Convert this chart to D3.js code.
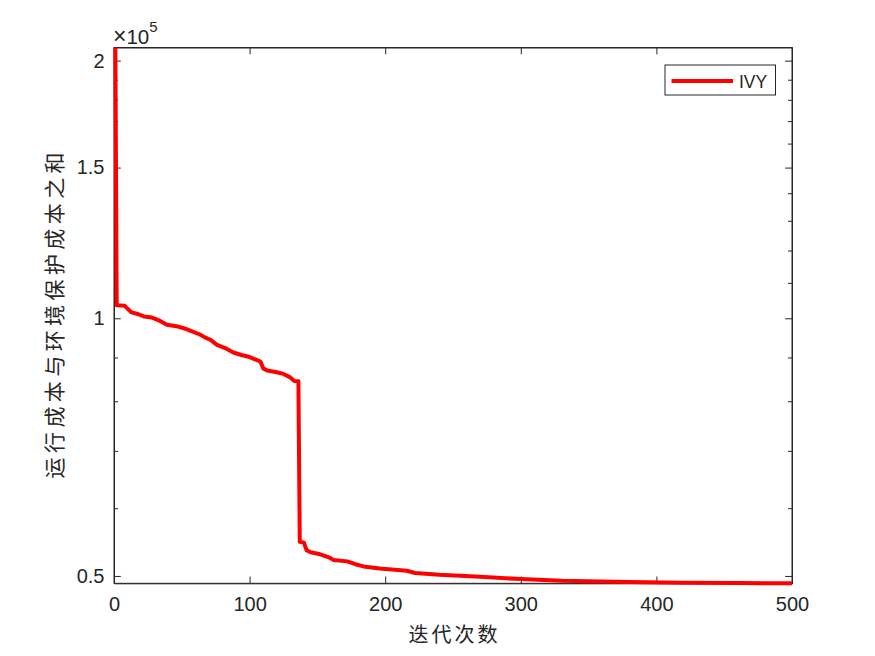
<!DOCTYPE html>
<html><head><meta charset="utf-8">
<script src="https://cdn.jsdelivr.net/npm/d3@7"></script>
<style>body{margin:0;background:#fff}svg{display:block}</style>
</head><body>
<svg id="c" width="875" height="656"></svg>
<script>
// ---- data ----
const iterations = [1, 2, 8, 10, 13, 18, 22, 28, 34, 39, 46, 52, 58, 63, 67, 71, 76, 82, 88, 94, 100, 105, 108, 110, 113, 120, 125, 130, 133, 136,
  137, 140, 142, 145, 152, 158, 162, 172, 178, 184, 196, 216, 222, 240, 270, 300, 330, 380, 420, 460, 500];
const cost = [207200, 103600, 103400, 102600, 101600, 101100, 100500, 100200, 99300, 98300, 97900, 97300, 96500, 95800, 95000, 94400, 93100, 92300, 91200, 90600, 90100, 89400, 89000, 87400, 86900, 86500, 86100, 85300, 84500, 84400,
  54800, 54700, 53600, 53300, 53000, 52600, 52200, 52000, 51600, 51300, 51000, 50700, 50400, 50150, 49880, 49580, 49350, 49180, 49100, 49050, 49020];
const xTicks = [0, 100, 200, 300, 400, 500];
const yMajorTicks = [50000, 100000, 150000, 200000];
const yMajorLabels = ["0.5", "1", "1.5", "2"];
const yMinorTicks = [60000, 70000, 80000, 90000, 110000, 120000, 130000, 140000, 160000, 170000, 180000, 190000];
const seriesName = "IVY";
const xLabel = "迭代次数";
const yLabel = "运行成本与环境保护成本之和";
const exponentLabel = "5";

// ---- layout ----
const L = 114, R = 792, T = 47.5, B = 583.3;
const axisColor = "#262626";
const numFont = "'Liberation Sans', Arial, Helvetica, sans-serif";
const cjkFont = "'Noto Sans CJK SC', sans-serif";

const svg = d3.select("#c");
const x = d3.scaleLinear().domain([0, 500]).range([L, R]);
const y = d3.scaleLog().domain(d3.extent(cost)).range([B, T]);

const data = iterations.map((it, i) => ({it, v: cost[i]}));

// axes (box with ticks on all sides)
const g = svg.append("g");
const majorLen = 6.8, minorLen = 4;

const xb = g.append("g").attr("transform", `translate(0,${B})`)
  .call(d3.axisBottom(x).tickValues(xTicks).tickSizeInner(-majorLen).tickSizeOuter(0).tickPadding(14));
g.append("g").attr("transform", `translate(0,${T})`)
  .call(d3.axisTop(x).tickValues(xTicks).tickSizeInner(-majorLen).tickSizeOuter(0).tickFormat(""));
g.append("g").attr("transform", `translate(${L},0)`)
  .call(d3.axisLeft(y).tickValues(yMajorTicks).tickSizeInner(-majorLen).tickSizeOuter(0).tickPadding(9.5)
    .tickFormat((d, i) => yMajorLabels[i]));
g.append("g").attr("transform", `translate(${R},0)`)
  .call(d3.axisRight(y).tickValues(yMajorTicks).tickSizeInner(-majorLen).tickSizeOuter(0).tickFormat(""));
g.append("g").attr("transform", `translate(${L},0)`)
  .call(d3.axisLeft(y).tickValues(yMinorTicks).tickSizeInner(-minorLen).tickSizeOuter(0).tickFormat(""));
g.append("g").attr("transform", `translate(${R},0)`)
  .call(d3.axisRight(y).tickValues(yMinorTicks).tickSizeInner(-minorLen).tickSizeOuter(0).tickFormat(""));

g.selectAll(".domain").attr("stroke", axisColor).attr("stroke-width", 1);
g.selectAll(".tick line").attr("stroke", axisColor).attr("stroke-width", 1);
g.selectAll(".tick text").attr("fill", axisColor).style("font-family", numFont).style("font-size", "20px");
xb.selectAll(".tick text").attr("dy", "0.71em");

// full box
g.append("rect").attr("x", L).attr("y", T).attr("width", R - L).attr("height", B - T)
  .attr("fill", "none").attr("stroke", axisColor).attr("stroke-width", 1);

// exponent label
const ex = svg.append("text").attr("x", 113).attr("y", 44).attr("fill", axisColor)
  .style("font-family", numFont).style("font-size", "20.5px");
ex.append("tspan").style("font-size", "23px").text("×");
ex.append("tspan").text("10");
ex.append("tspan").attr("dy", -12).style("font-size", "15px").text(exponentLabel);

// line
const line = d3.line().x(d => x(d.it)).y(d => y(d.v));
svg.append("path").datum(data).attr("d", line)
  .attr("fill", "none").attr("stroke", "#ff0000").attr("stroke-width", 4)
  .attr("stroke-linejoin", "round").attr("stroke-linecap", "butt");

// axis labels
svg.append("text").attr("x", (L + R) / 2).attr("y", 642).attr("text-anchor", "middle")
  .attr("fill", axisColor).style("font-family", cjkFont).style("font-size", "20px")
  .attr("textLength", 89).attr("lengthAdjust", "spacing").text(xLabel);
svg.append("text").attr("transform", `translate(62,${(T + B) / 2}) rotate(-90)`).attr("text-anchor", "middle")
  .attr("fill", axisColor).style("font-family", cjkFont).style("font-size", "21px")
  .attr("textLength", 326).attr("lengthAdjust", "spacing").text(yLabel);

// legend
const lg = svg.append("g");
lg.append("rect").attr("x", 665).attr("y", 65).attr("width", 110.5).attr("height", 30)
  .attr("fill", "#fff").attr("stroke", axisColor).attr("stroke-width", 1);
lg.append("line").attr("x1", 671.5).attr("x2", 733).attr("y1", 81).attr("y2", 81)
  .attr("stroke", "#ff0000").attr("stroke-width", 4);
lg.append("text").attr("x", 739).attr("y", 87.5).attr("fill", axisColor)
  .style("font-family", numFont).style("font-size", "17.5px").text(seriesName);
</script>
</body></html>
